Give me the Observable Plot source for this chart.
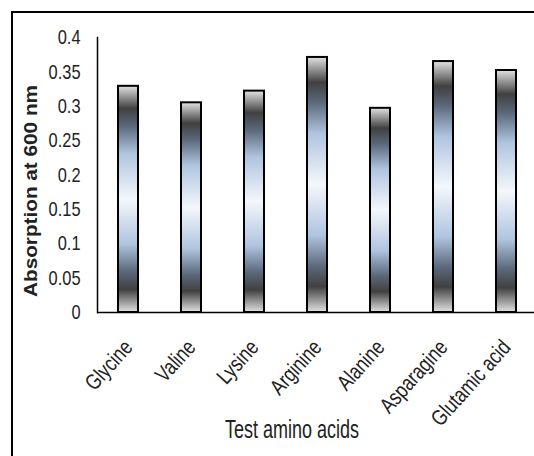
<!DOCTYPE html>
<html>
<head>
<meta charset="utf-8">
<script src="https://cdn.jsdelivr.net/npm/d3@7"></script>
<script src="https://cdn.jsdelivr.net/npm/@observablehq/plot@0.6"></script>
<style>
  html, body { margin: 0; padding: 0; background: #fff; }
  #wrap { position: relative; width: 534px; height: 456px; overflow: hidden; }
  #border { position: absolute; left: 11px; top: 11px; width: 700px; height: 700px;
            border: 2px solid #000; box-sizing: border-box; pointer-events: none; }
  svg text { fill: #222; font-family: "Liberation Sans", Arial, sans-serif; }
  g[aria-label="y-axis tick label"] text { font-size: 21px; }
  g[aria-label="x-axis tick label"] text { font-size: 22px; }
  g.ylabel text { font-size: 18px; font-weight: 600; }
  g.xlabel text { font-size: 25px; }
</style>
</head>
<body>
<div id="wrap"><div id="border"></div></div>
<script>
const categories = ["Glycine", "Valine", "Lysine", "Arginine", "Alanine", "Asparagine", "Glutamic acid"];
const values = [0.329, 0.305, 0.322, 0.371, 0.297, 0.365, 0.352];
const yTicks = [0, 0.05, 0.1, 0.15, 0.2, 0.25, 0.3, 0.35, 0.4];
const yLabel = "Absorption at 600 nm";
const xLabel = "Test amino acids";

const data = categories.map((c, i) => ({category: c, value: values[i]}));

const gradientDefs = () => {
  const defs = d3.create("svg:defs");
  const g = defs.append("linearGradient")
    .attr("id", "chrome").attr("x1", 0).attr("y1", 0).attr("x2", 0).attr("y2", 1);
  const stops = [
    [0, "#e2e2e2"], [0.1, "#404040"], [0.18, "#5c6a7c"], [0.3, "#afc4df"],
    [0.5, "#f4f7fb"], [0.7, "#afc4df"], [0.82, "#5c6a7c"], [0.9, "#404040"], [1, "#e2e2e2"]
  ];
  for (const [o, c] of stops) g.append("stop").attr("offset", o).attr("stop-color", c);
  return defs.node();
};

const chart = Plot.plot({
  width: 534,
  height: 456,
  marginTop: 37,
  marginBottom: 144,
  marginLeft: 97,
  marginRight: 0,
  style: {background: "transparent", overflow: "visible"},
  x: {domain: categories, range: [97, 538], paddingInner: 0.68, paddingOuter: 0.34, label: null},
  y: {domain: [0, 0.4], label: null},
  marks: [
    gradientDefs,
    Plot.barY(data, {x: "category", y: "value", fill: "url(#chrome)", stroke: "#000", strokeWidth: 2}),
    Plot.ruleY([0], {stroke: "#000", strokeWidth: 1.5}),
    Plot.frame({anchor: "left", stroke: "#000", strokeWidth: 1.5}),
    Plot.axisY({ticks: yTicks, tickSize: 0, tickPadding: 17, tickFormat: d => String(+d.toFixed(2)), label: null}),
    Plot.axisX({tickSize: 0, tickPadding: 31, tickRotate: -48, label: null}),
    Plot.text([yLabel], {frameAnchor: "left", text: d => d, rotate: -90, textAnchor: "middle", lineAnchor: "middle", dx: -66, dy: 16, className: "ylabel"}),
    Plot.text([xLabel], {frameAnchor: "bottom", text: d => d, textAnchor: "middle", lineAnchor: "middle", dx: -24, dy: 117, className: "xlabel"})
  ]
});
document.getElementById("wrap").prepend(chart);

// emulate the condensed (Arial Narrow-like) lettering of the original
const squeeze = (sel, f) => chart.querySelectorAll(sel).forEach(t => {
  const w = t.getComputedTextLength();
  t.setAttribute("textLength", w * f);
  t.setAttribute("lengthAdjust", "spacingAndGlyphs");
});
squeeze('g[aria-label="y-axis tick label"] text', 0.78);
squeeze('g[aria-label="x-axis tick label"] text', 0.8);
chart.querySelectorAll("g.xlabel text").forEach(t => { t.setAttribute("textLength", 134); t.setAttribute("lengthAdjust", "spacingAndGlyphs"); });
chart.querySelectorAll("g.ylabel text").forEach(t => { t.setAttribute("textLength", 212); t.setAttribute("lengthAdjust", "spacingAndGlyphs"); });
</script>
</body>
</html>
